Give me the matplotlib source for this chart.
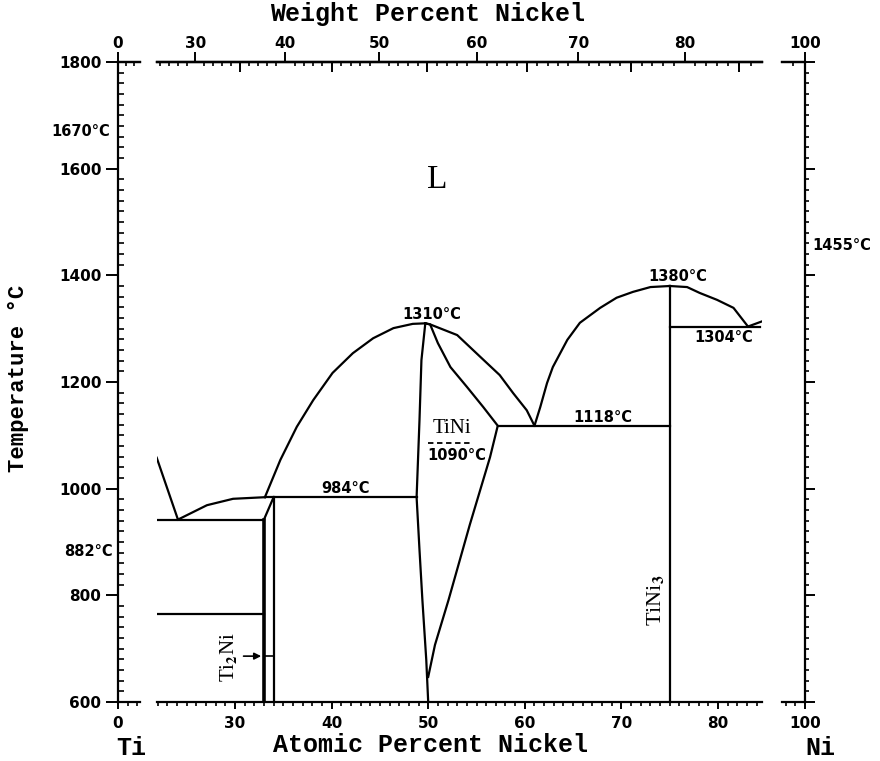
import numpy as np
import matplotlib.pyplot as plt
from matplotlib.ticker import MultipleLocator, FixedLocator, NullFormatter

plt.rcParams['font.family'] = 'DejaVu Sans'
plt.rcParams['font.weight'] = 'bold'
plt.rcParams['mathtext.fontset'] = 'stix'

# phase boundaries: atomic % Ni, temperature in C
ti_liq_at = [21.9, 24.1]
ti_liq_T = [1058, 942]
ti2ni_liq_at = [24.1, 27.1, 29.8, 33.1]
ti2ni_liq_T = [942, 969, 981, 984]
tini_liqL_at = [33.1, 34.7, 36.4, 38.1, 40.1, 42.2, 44.3, 46.4, 48.4, 49.7]
tini_liqL_T = [984, 1054, 1116, 1166, 1217, 1254, 1282, 1301, 1309, 1310]
tini_solL_at = [49.7, 49.3, 49.1, 48.8, 49.1, 49.4, 49.8, 50.0]
tini_solL_T = [1310, 1241, 1129, 984, 885, 791, 679, 600]
tini_solR_at = [49.7, 50.2, 51.0, 52.3, 54.0, 55.7, 57.2, 56.4, 54.3, 52.1, 50.7, 50.0]
tini_solR_T = [1310, 1308, 1273, 1228, 1191, 1153, 1118, 1059, 932, 791, 707, 647]
tini_liqR_at = [49.7, 50.2, 53.0, 55.4, 57.4, 58.8, 60.2, 61.0]
tini_liqR_T = [1310, 1308, 1288, 1247, 1213, 1179, 1147, 1118]
tini3_liqL_at = [61.0, 61.6, 62.3, 62.9, 64.4, 65.7, 67.8, 69.5, 71.2, 73.0, 75.0]
tini3_liqL_T = [1118, 1153, 1198, 1228, 1279, 1311, 1339, 1358, 1369, 1378, 1380]
tini3_liqR_at = [75.0, 76.8, 78.1, 79.9, 81.6, 83.1]
tini3_liqR_T = [1380, 1378, 1367, 1354, 1339, 1304]
ni_liq_at = [83.1, 84.6]
ni_liq_T = [1304, 1314]

# horizontal reactions (x0, x1, T)
isotherms = [(21.9, 33.0, 942), (21.9, 33.0, 765), (33.1, 48.8, 984),
             (57.2, 75.0, 1118), (75.0, 84.3, 1304)]
# vertical compound lines (x, Ttop)
verticals = [(33.0, 942, 2.6), (34.0, 984, 1.6), (75.0, 1380, 1.6)]

temp_labels = [('1310°C', 50.4, 1326), ('984°C', 41.4, 1001), ('1090°C', 53.0, 1063),
               ('1118°C', 68.1, 1134), ('1380°C', 75.8, 1397), ('1304°C', 80.6, 1284)]


def at2wt(a):
    a = np.asarray(a, float)
    return 100 * a * 58.69 / (a * 58.69 + (100 - a) * 47.87)


def wt2at(w):
    w = np.asarray(w, float)
    return 100 * (w / 58.69) / (w / 58.69 + (100 - w) / 47.87)


W, H = 880, 761
fig = plt.figure(figsize=(8.8, 7.61), dpi=100)


def box(x0, x1):
    return [x0 / W, 1 - 702 / H, (x1 - x0) / W, 640 / H]


axL = fig.add_axes(box(118, 140))
axM = fig.add_axes(box(157, 762))
axR = fig.add_axes(box(782, 805))
axL.set_xlim(0, 2.28)
axM.set_xlim(21.93, 84.55)
axR.set_xlim(97.62, 100)
for ax in (axL, axM, axR):
    ax.set_ylim(600, 1800)
    for s in ax.spines.values():
        s.set_linewidth(1.6)
    ax.tick_params(labelsize=11, width=1.4)
axL.spines['right'].set_visible(False)
axM.spines['left'].set_visible(False)
axM.spines['right'].set_visible(False)
axR.spines['left'].set_visible(False)

# y axes
axL.yaxis.set_major_locator(MultipleLocator(200))
axL.yaxis.set_minor_locator(MultipleLocator(20))
axL.tick_params(axis='y', which='major', direction='out', length=9, pad=3)
axL.tick_params(axis='y', which='minor', direction='in', length=4, width=1.2)
axM.tick_params(axis='y', which='both', left=False, labelleft=False)
axR.yaxis.tick_right()
axR.yaxis.set_major_locator(MultipleLocator(200))
axR.yaxis.set_minor_locator(MultipleLocator(20))
axR.yaxis.set_major_formatter(NullFormatter())
axR.tick_params(axis='y', which='major', direction='out', length=7)
axR.tick_params(axis='y', which='minor', direction='out', length=3, width=1.2)

# bottom x axes (atomic %)
axL.set_xticks([0])
axL.xaxis.set_minor_locator(FixedLocator([1, 2]))
axM.set_xticks([30, 40, 50, 60, 70, 80])
axM.xaxis.set_minor_locator(MultipleLocator(1))
axR.set_xticks([100])
axR.xaxis.set_minor_locator(FixedLocator([98, 99]))
for ax in (axL, axM, axR):
    ax.tick_params(axis='x', which='major', direction='out', length=5, pad=5)
    ax.tick_params(axis='x', which='minor', direction='out', length=3, width=1.2)

# top x axes (weight %)
tops = [(axL, [0], [1, 2]), (axM, [30, 40, 50, 60, 70, 80], list(range(25, 87))),
        (axR, [100], [98, 99])]
for ax, maj, mnr in tops:
    sec = ax.secondary_xaxis('top', functions=(at2wt, wt2at))
    sec.set_xticks(maj)
    sec.xaxis.set_minor_locator(FixedLocator(mnr))
    sec.spines['top'].set_linewidth(1.6)
    sec.tick_params(which='major', direction='out', length=7, width=1.4, pad=1, labelsize=11)
    sec.tick_params(which='minor', direction='in', length=3, width=1.2)
sec2 = axM.secondary_xaxis('top', functions=(at2wt, wt2at))
sec2.set_xticks([35, 45, 55, 65, 75, 85])
sec2.xaxis.set_major_formatter(NullFormatter())
sec2.tick_params(which='major', direction='in', length=7, width=1.4)
sec2.spines['top'].set_linewidth(1.6)

# phase diagram lines
lc = dict(color='black', lw=1.6)
axM.plot(ti_liq_at, ti_liq_T, **lc)
axM.plot(ti2ni_liq_at, ti2ni_liq_T, **lc)
axM.plot(tini_liqL_at, tini_liqL_T, **lc)
axM.plot(tini_solL_at, tini_solL_T, **lc)
axM.plot(tini_solR_at, tini_solR_T, **lc)
axM.plot(tini_liqR_at, tini_liqR_T, **lc)
axM.plot(tini3_liqL_at, tini3_liqL_T, **lc)
axM.plot(tini3_liqR_at, tini3_liqR_T, **lc)
axM.plot(ni_liq_at, ni_liq_T, **lc)
for x0, x1, t in isotherms:
    axM.plot([x0, x1], [t, t], **lc)
for x, t, w in verticals:
    axM.plot([x, x], [600, t], color='black', lw=w)
axM.plot([33.0, 34.0], [942, 984], **lc)

# labels
for s, x, t in temp_labels:
    axM.text(x, t, s, ha='center', va='center', fontsize=10.5)
axM.plot([50.0, 54.6], [1086, 1086], color='black', lw=1.3, ls=(0, (3, 2)))
serif = 'Liberation Serif'
axM.text(50.9, 1580, 'L', family=serif, fontweight='normal', fontsize=24, ha='center', va='center')
axM.text(52.5, 1112, 'TiNi', family=serif, fontweight='normal', fontsize=15, ha='center', va='center')
axM.text(73.5, 791, 'TiNi$_3$', family=serif, fontweight='normal', fontsize=16,
         rotation=90, ha='center', va='center')
axM.text(29.3, 684, 'Ti$_2$Ni', family=serif, fontweight='normal', fontsize=15,
         rotation=90, ha='center', va='center')
axM.annotate('', xy=(33.0, 686), xytext=(30.6, 686),
             arrowprops=dict(arrowstyle='-|>', lw=1.2, color='black', mutation_scale=10))
axM.plot([33.0, 34.0], [686, 686], color='black', lw=1.2)

axL.annotate('1670°C', xy=(0, 1670), xytext=(-6, 0), textcoords='offset points',
             ha='right', va='center', fontsize=10.5, annotation_clip=False)
axL.annotate('882°C', xy=(0, 882), xytext=(-4, 0), textcoords='offset points',
             ha='right', va='center', fontsize=10.5, annotation_clip=False)
axR.annotate('1455°C', xy=(100, 1455), xytext=(5, 0), textcoords='offset points',
             ha='left', va='center', fontsize=10.5, annotation_clip=False)

mono = 'Liberation Mono'
fig.text(428 / W, 1 - 14 / H, 'Weight Percent Nickel', family=mono, fontsize=18,
         ha='center', va='center')
fig.text(430 / W, 1 - 745 / H, 'Atomic Percent Nickel', family=mono, fontsize=18,
         ha='center', va='center')
fig.text(18 / W, 1 - 378 / H, 'Temperature °C', family=mono, fontsize=16,
         ha='center', va='center', rotation=90)
fig.text(131 / W, 1 - 748 / H, 'Ti', family=mono, fontsize=18, ha='center', va='center')
fig.text(820 / W, 1 - 748 / H, 'Ni', family=mono, fontsize=18, ha='center', va='center')

fig.savefig('out.png', dpi=100)
